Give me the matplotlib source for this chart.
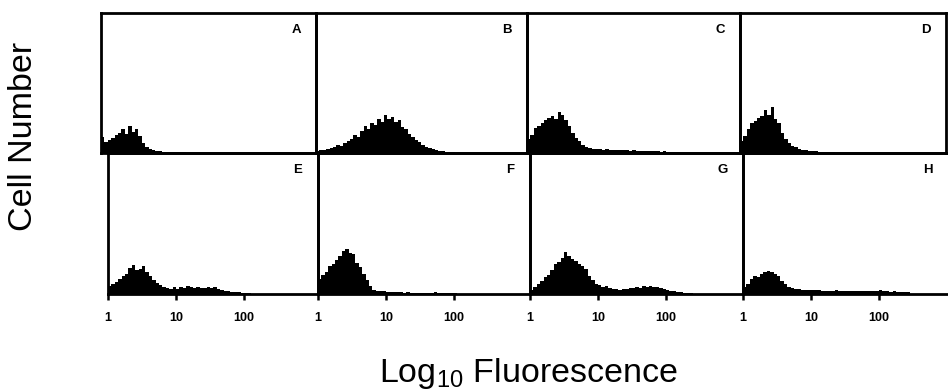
"""Flow cytometry panels A-H: cell number vs log10 fluorescence."""
import numpy as np
import matplotlib.pyplot as plt
from matplotlib.ticker import NullLocator

plt.rcParams["font.family"] = ["Liberation Sans", "DejaVu Sans"]
plt.rcParams["mathtext.fontset"] = "custom"
plt.rcParams["mathtext.rm"] = "Liberation Sans"

W, H = 948, 391
DECADE_PX = 68      # width of one log decade on the page
BIN_DEC = 0.05      # histogram bin width in decades

# ----------------------------- data (bin heights) ---------------------------
counts_A = [16, 11, 13, 15, 18, 20, 24, 19, 27, 21, 24, 17, 10, 6, 4, 3, 2,
            1.5, 1, 1, 1, 0.8, 0.6, 0.5, 0.5, 0.4, 0.3, 0.3, 0.2]
counts_B = [2, 3, 3, 4, 5, 6, 8, 7, 10, 12, 14, 18, 16, 22, 27, 24, 30, 28,
            34, 31, 38, 34, 36, 31, 33, 26, 24, 19, 16, 13, 11, 8, 6, 5, 4,
            3, 2, 1.5, 1, 1, 0.5]
counts_C = [14, 18, 25, 27, 30, 33, 35, 37, 34, 41, 38, 33, 27, 20, 15, 12,
            8, 6, 5, 4, 4, 3.5, 3, 3.5, 3, 3, 2.5, 3, 2.5, 2.5, 2, 2.5, 2, 2,
            2, 1.5, 2, 1.5, 1.5, 1, 1.5, 1, 1, 1, 0.5]
counts_D = [12, 17, 24, 30, 32, 35, 37, 43, 38, 46, 34, 30, 20, 14, 10, 7, 6,
            4, 3, 2.5, 2, 1.5, 1.5, 1, 1, 1, 0.5, 0.5]
counts_E = [8, 10, 12, 15, 18, 20, 26, 29, 24, 25, 28, 22, 18, 14, 11, 9, 7,
            6, 5, 7, 5, 7, 6, 8, 7, 6, 7, 6, 6, 7, 6, 7, 5, 4, 3, 3, 2, 2,
            1.5, 1, 1, 0.5]
counts_F = [15, 19, 22, 28, 30, 34, 38, 43, 45, 41, 40, 31, 27, 20, 14, 8, 4,
            3, 3, 2.5, 2, 2, 1.5, 1.5, 1.5, 1, 1.5, 1, 1, 1, 1, 1, 1, 1, 1.5,
            1, 1, 1, 1, 0.5, 0.5]
counts_G = [4, 7, 10, 13, 17, 19, 24, 30, 32, 36, 42, 38, 35, 33, 30, 28, 25,
            18, 14, 10, 9, 7, 8, 6, 5, 5, 4, 5, 5, 6, 6, 7, 6, 8, 7, 8, 7, 7,
            6, 5, 4, 3, 2.5, 2, 1.5, 1, 1, 0.5]
counts_H = [7, 10, 15, 18, 17, 20, 22, 23, 22, 20, 18, 13, 10, 7, 6, 5, 5, 4,
            4, 4, 4, 3.5, 4, 3, 3, 3, 3, 3.5, 3, 3, 3, 2.5, 3, 3, 3, 3, 3, 3,
            3, 2.5, 3.5, 3, 2.5, 2, 2.5, 2, 2, 1.5, 1.5]

panel_letters = ["A", "B", "C", "D", "E", "F", "G", "H"]
panel_counts = [counts_A, counts_B, counts_C, counts_D,
                counts_E, counts_F, counts_G, counts_H]
tick_values = [1, 10, 100]
tick_labels = ["1", "10", "100"]

# page layout in pixels: (left, top, right, bottom)
TOP_ROW = [(101, 13, 316, 153), (316, 13, 527, 153),
           (527, 13, 740, 153), (740, 13, 946, 153)]
BOT_ROW = [(108, 153, 318, 294), (318, 153, 530, 294),
           (530, 153, 743, 294), (743, 153, 948, 294)]
Y_MAX = 140


def px_axes(fig, left, top, right, bottom):
    return fig.add_axes([left / W, 1 - bottom / H,
                         (right - left) / W, (bottom - top) / H])


fig = plt.figure(figsize=(W / 100, H / 100), dpi=100)

for i, (letter, counts) in enumerate(zip(panel_letters, panel_counts)):
    bottom_row = i >= 4
    left, top, right, bottom = (BOT_ROW if bottom_row else TOP_ROW)[i % 4]
    ax = px_axes(fig, left, top, right, bottom)
    edges = 10 ** (np.arange(len(counts) + 1) * BIN_DEC)
    ax.stairs(counts, edges, fill=True, color="black", lw=0)
    ax.set_xscale("log")
    ax.set_xlim(1, 10 ** ((right - left) / DECADE_PX))
    ax.set_ylim(0, Y_MAX)
    ax.patch.set_alpha(0)
    for sp in ax.spines.values():
        sp.set_linewidth(2.0)
    ax.set_yticks([])
    ax.xaxis.set_minor_locator(NullLocator())
    if bottom_row:
        ax.set_xticks(tick_values, tick_labels)
        ax.tick_params(axis="x", direction="out", length=4, width=1.8,
                       pad=9, labelsize=9)
        for t in ax.get_xticklabels():
            t.set_fontweight("bold")
        if i == 7:
            ax.spines["right"].set_visible(False)
    else:
        ax.set_xticks([])
    # letter sits ~20 px in from the right edge, ~17 px down from the top
    ax.text(1 - 20 / (right - left), 1 - 17 / (bottom - top), letter,
            transform=ax.transAxes, fontsize=9.5, fontweight="bold",
            ha="center", va="center")

fig.text(24 / W, 1 - 136 / H, "Cell Number", rotation=90, fontsize=24.5,
         ha="center", va="center")
fig.text(528 / W, 1 - 382 / H, "Log$_{\\rm 10}$ Fluorescence", fontsize=24.5,
         ha="center", va="baseline")

fig.savefig("out.png", dpi=100)
